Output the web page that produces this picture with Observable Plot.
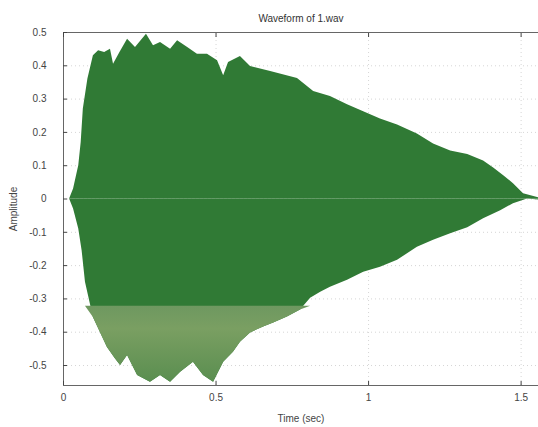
<!DOCTYPE html>
<html>
<head>
<meta charset="utf-8">
<script src="https://cdn.jsdelivr.net/npm/d3@7"></script>
<script src="https://cdn.jsdelivr.net/npm/@observablehq/plot@0.6"></script>
<style>
  html, body { margin: 0; padding: 0; background: #fff; }
</style>
</head>
<body>
<div id="chart"></div>
<script>
const title = "Waveform of 1.wav";
const xLabel = "Time (sec)";
const yLabel = "Amplitude";
const xTicks = [0, 0.5, 1, 1.5];
const yTicks = [-0.5, -0.4, -0.3, -0.2, -0.1, 0, 0.1, 0.2, 0.3, 0.4, 0.5];

// upper envelope (time in sec, amplitude)
const upperT = [0.020, 0.033, 0.050, 0.058, 0.065, 0.080, 0.098, 0.115, 0.135, 0.154, 0.164, 0.185, 0.210, 0.236, 0.272, 0.295, 0.318, 0.351, 0.374, 0.407, 0.439, 0.472, 0.505, 0.525, 0.541, 0.580, 0.613, 0.679, 0.767, 0.820, 0.875, 0.931, 0.984, 1.039, 1.095, 1.160, 1.213, 1.269, 1.325, 1.377, 1.410, 1.443, 1.475, 1.508, 1.557];
const upperV = [0, 0.03, 0.10, 0.17, 0.27, 0.36, 0.43, 0.445, 0.44, 0.45, 0.405, 0.44, 0.48, 0.455, 0.495, 0.46, 0.47, 0.45, 0.475, 0.455, 0.435, 0.435, 0.415, 0.37, 0.41, 0.428, 0.398, 0.383, 0.362, 0.323, 0.308, 0.283, 0.262, 0.240, 0.222, 0.195, 0.165, 0.144, 0.134, 0.114, 0.093, 0.070, 0.046, 0.016, 0.004];

// lower envelope
const lowerT = [0.020, 0.033, 0.050, 0.061, 0.072, 0.098, 0.144, 0.170, 0.187, 0.210, 0.243, 0.285, 0.318, 0.351, 0.384, 0.426, 0.459, 0.492, 0.525, 0.557, 0.580, 0.613, 0.656, 0.689, 0.734, 0.777, 0.810, 0.843, 0.875, 0.931, 0.984, 1.039, 1.095, 1.160, 1.213, 1.269, 1.325, 1.377, 1.433, 1.475, 1.521, 1.557];
const lowerV = [0, -0.03, -0.09, -0.155, -0.25, -0.356, -0.446, -0.48, -0.50, -0.47, -0.53, -0.55, -0.53, -0.55, -0.52, -0.49, -0.53, -0.55, -0.49, -0.46, -0.43, -0.402, -0.384, -0.372, -0.354, -0.333, -0.298, -0.280, -0.265, -0.244, -0.220, -0.205, -0.184, -0.145, -0.124, -0.104, -0.086, -0.059, -0.035, -0.014, 0.0, -0.003];

const upper = upperT.map((t, i) => ({t, v: upperV[i]}));
const lower = lowerT.map((t, i) => ({t, v: lowerV[i]}));

const green = "#307a35";
const bandTop = -0.322;   // lighter scanned band on the negative half
const fmt = d => String(d);

const defs = () => {
  const s = d3.create("svg:defs");
  const g = s.append("linearGradient").attr("id", "band").attr("x1", 0).attr("x2", 0).attr("y1", 0).attr("y2", 1);
  g.append("stop").attr("offset", "0%").attr("stop-color", "#6e9860");
  g.append("stop").attr("offset", "30%").attr("stop-color", "#7a9f62");
  g.append("stop").attr("offset", "100%").attr("stop-color", "#5a8e50");
  return s.node();
};

const chart = Plot.plot({
  width: 538,
  height: 427,
  marginTop: 32,
  marginBottom: 42,
  marginLeft: 63,
  marginRight: 0,
  style: {fontFamily: "'Liberation Sans', Arial, sans-serif", fontSize: "10px", color: "#444", background: "#fff"},
  x: {domain: [0, 1.557]},
  y: {domain: [-0.56, 0.5]},
  marks: [
    defs,
    Plot.gridX(xTicks, {stroke: "#888", strokeDasharray: "1,3", strokeOpacity: 0.35}),
    Plot.gridY(yTicks, {stroke: "#888", strokeDasharray: "1,3", strokeOpacity: 0.35}),
    Plot.areaY(upper, {x: "t", y1: 0, y2: "v", fill: green}),
    Plot.areaY(lower, {x: "t", y1: 0, y2: "v", fill: green}),
    Plot.areaY(lower, {x: "t", y1: bandTop, y2: d => Math.min(d.v, bandTop), fill: "url(#band)"}),
    Plot.frame({stroke: "#666"}),
    Plot.axisX(xTicks, {anchor: "bottom", tickSize: 0, tickPadding: 8, tickFormat: fmt, label: xLabel, labelArrow: "none", labelAnchor: "center", labelOffset: 36}),
    Plot.axisX(xTicks, {anchor: "bottom", tickSize: 4, dy: -4, tickFormat: () => "", label: null}),
    Plot.axisX(xTicks, {anchor: "top", tickSize: 4, dy: 4, tickFormat: () => "", label: null}),
    Plot.axisY(yTicks, {anchor: "left", tickSize: 0, tickPadding: 17, tickFormat: fmt, label: yLabel, labelArrow: "none", labelAnchor: "center", labelOffset: 54}),
    Plot.axisY(yTicks, {anchor: "left", tickSize: 4, dx: 4, tickFormat: () => "", label: null}),
    Plot.text([title], {frameAnchor: "top", dy: -18, fontSize: 10, fill: "#333"})
  ]
});
document.getElementById("chart").appendChild(chart);
</script>
</body>
</html>
